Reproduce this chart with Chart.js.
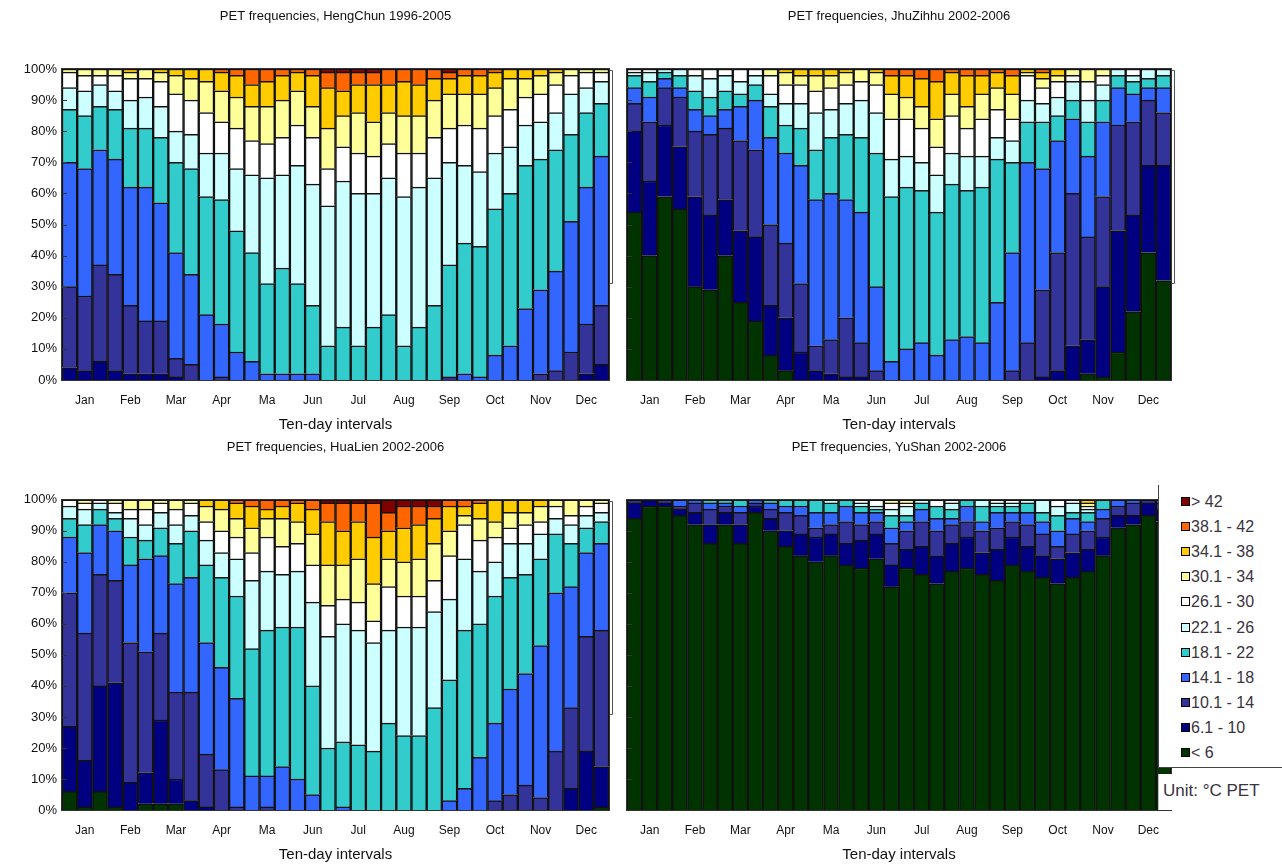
<!DOCTYPE html>
<html>
<head>
<meta charset="utf-8">
<script src="https://cdn.jsdelivr.net/npm/chart.js@4.4.0/dist/chart.umd.min.js"></script>
<style>
  html, body { margin: 0; padding: 0; background: #fff; }
  body { width: 1282px; height: 865px; position: relative; overflow: hidden; font-family: 'Liberation Sans', Arial, sans-serif; }
  canvas { position: absolute; }
  #legend { position: absolute; left: 1158px; top: 485px; width: 124px; height: 282px; background: #fff;
            border-left: 1px solid #444; border-bottom: 1px solid #444; z-index: 2; }
  #legend .item { position: absolute; left: 22px; height: 18px; line-height: 18px; font-size: 16px; color: #3a3340; white-space: nowrap; }
  #legend .sw { display: inline-block; width: 7px; height: 7px; border: 1px solid #000; margin-right: 1px; vertical-align: 1px; }
  #unit { position: absolute; left: 1158px; top: 774px; width: 124px; height: 36px; background: #fff;
          border-left: 1px solid #bbb; z-index: 2; font-size: 17px; color: #3a3340; line-height: 34px; padding-left: 4px; box-sizing: border-box; }
</style>
</head>
<body>
<canvas id="c1" width="616" height="435" style="left:0px;top:0px"></canvas>
<canvas id="c2" width="662" height="435" style="left:620px;top:0px"></canvas>
<canvas id="c3" width="616" height="430" style="left:0px;top:435px"></canvas>
<canvas id="c4" width="662" height="430" style="left:620px;top:435px"></canvas>
<div id="legend"></div>
<div id="unit">Unit: °C PET</div>

<script>
// PET classes, bottom to top
const classLabels = ['< 6', '6.1 - 10', '10.1 - 14', '14.1 - 18', '18.1 - 22', '22.1 - 26',
                     '26.1 - 30', '30.1 - 34', '34.1 - 38', '38.1 - 42', '> 42'];
const classColors = ['#003300', '#000080', '#333399', '#3366ff', '#33cccc', '#ccffff',
                     '#ffffff', '#ffff99', '#ffcc00', '#ff6600', '#800000'];

const months = ['Jan', 'Feb', 'Mar', 'Apr', 'Ma', 'Jun', 'Jul', 'Aug', 'Sep', 'Oct', 'Nov', 'Dec'];

// one row per ten-day interval, % share of each class (bottom to top)
const hengChun = [
  [0,4,26,40,17,7,5,1,0,0,0], [0,3,24,41,17,8,5,2,0,0,0], [0,6,31,37,14,7,3,2,0,0,0],
  [0,3,31,37,16,6,5,2,0,0,0], [0,2,22,38,19,9,7,2,1,0,0], [0,2,17,43,19,10,6,3,0,0,0],
  [0,2,17,38,21,10,8,3,1,0,0], [0,1,6,34,29,10,12,6,2,0,0], [0,0,5,29,34,11,11,7,3,0,0],
  [0,0,0,21,38,14,13,10,4,0,0], [0,0,1,17,40,15,10,10,6,1,0], [0,0,0,9,39,20,13,10,7,2,0],
  [0,0,0,6,35,25,11,11,7,5,0], [0,0,0,2,29,34,11,12,8,4,0], [0,0,0,2,34,30,12,12,8,2,0],
  [0,0,0,2,29,38,13,11,6,1,0], [0,0,0,2,22,39,15,10,10,2,0], [0,0,0,0,11,45,12,13,13,5,1],
  [0,0,0,0,17,47,11,10,8,6,1], [0,0,0,0,11,49,13,13,9,4,1], [0,0,0,0,17,43,12,11,12,4,1],
  [0,0,0,0,21,44,11,10,9,5,0], [0,0,0,0,11,48,14,12,11,4,0], [0,0,0,0,17,45,11,12,10,5,0],
  [0,0,0,0,24,41,13,12,7,3,0], [0,0,1,0,36,33,11,11,5,2,1], [0,0,0,2,42,25,13,10,6,2,0],
  [0,0,0,1,42,24,14,11,6,2,0], [0,0,0,8,47,18,12,9,5,1,0], [0,0,0,11,49,15,12,10,3,0,0],
  [0,0,0,23,46,13,9,6,3,0,0], [0,0,2,27,42,12,9,6,2,0,0], [0,0,3,32,39,12,9,4,1,0,0],
  [0,0,9,42,28,13,6,2,0,0,0], [0,2,16,44,24,8,5,1,0,0,0], [0,5,19,48,17,7,3,1,0,0,0]
];

const jhuZihhu = [
  [54,26,9,5,4,1,1,0,0,0,0], [40,24,19,8,5,3,1,0,0,0,0], [59,23,12,3,2,1,0,0,0,0,0],
  [55,20,16,3,4,2,0,0,0,0,0], [30,29,21,7,6,5,2,0,0,0,0], [29,24,26,6,6,6,3,0,0,0,0],
  [40,18,23,6,6,5,2,0,0,0,0], [25,23,29,11,4,4,4,0,0,0,0], [19,27,28,16,5,3,2,0,0,0,0],
  [8,16,26,28,10,4,6,2,0,0,0], [3,17,24,29,9,7,6,4,1,0,0], [0,9,22,38,12,8,6,3,2,0,0],
  [0,3,8,47,16,12,7,5,2,0,0], [0,2,11,47,18,9,7,4,2,0,0], [0,1,19,38,21,10,6,4,1,0,0],
  [0,1,11,42,24,12,6,4,0,0,0], [0,0,3,27,43,13,9,4,1,0,0], [0,0,0,6,53,12,13,8,6,2,0],
  [0,0,0,10,52,10,12,7,7,2,0], [0,0,0,12,49,9,11,7,9,3,0], [0,0,0,8,46,12,9,9,12,4,0],
  [0,0,0,13,50,10,12,7,7,1,0], [0,0,0,14,47,11,9,7,10,2,0], [0,0,0,12,50,10,12,8,6,2,0],
  [0,0,0,25,46,7,9,7,5,1,0], [0,0,3,38,29,7,7,8,6,2,0], [0,0,12,58,13,7,8,1,1,0,0],
  [0,1,28,39,15,6,5,3,2,1,0], [0,3,38,36,8,6,5,2,2,0,0], [0,11,49,24,6,6,2,2,0,0,0],
  [2,11,33,26,11,7,6,4,0,0,0], [1,29,29,24,7,5,3,2,0,0,0], [9,39,34,12,4,2,0,0,0,0,0],
  [22,31,30,9,4,2,2,0,0,0,0], [41,28,21,4,3,3,0,0,0,0,0], [32,37,17,8,4,2,0,0,0,0,0]
];

const huaLien = [
  [6,21,43,18,6,4,2,0,0,0,0], [1,15,41,26,9,5,2,1,0,0,0], [6,34,36,16,5,2,1,0,0,0,0],
  [1,40,33,16,4,2,3,1,0,0,0], [0,9,45,25,9,6,3,3,0,0,0], [2,10,39,30,6,5,5,3,0,0,0],
  [2,27,28,25,9,5,3,1,0,0,0], [2,8,28,35,13,6,5,3,0,0,0], [0,3,35,37,15,5,4,1,0,0,0],
  [0,1,17,36,25,8,6,5,2,0,0], [0,0,13,33,29,8,7,7,3,0,0], [0,0,1,35,33,12,7,6,5,1,0],
  [0,0,0,11,41,22,9,8,7,2,0], [0,0,1,10,47,19,11,6,3,3,0], [0,0,0,14,45,17,9,9,4,2,0],
  [0,0,0,10,49,18,9,7,6,1,0], [0,0,0,5,35,27,12,10,8,3,0], [0,0,0,0,20,36,10,13,14,6,1],
  [0,0,0,1,21,38,8,11,11,9,1], [0,0,0,0,21,37,9,14,12,6,1], [0,0,0,0,19,35,7,12,15,11,1],
  [0,0,0,0,28,30,14,9,9,6,4], [0,0,0,0,24,35,10,11,11,7,2], [0,0,0,0,24,35,10,12,11,6,2],
  [0,0,0,0,33,31,10,12,8,4,2], [0,0,0,3,39,26,14,8,8,2,0], [0,0,0,7,51,23,11,3,3,2,0],
  [0,0,0,17,43,17,10,7,5,1,0], [0,0,3,25,41,11,8,5,7,0,0], [0,0,5,34,36,11,5,5,4,0,0],
  [0,0,8,36,32,10,6,4,4,0,0], [0,0,4,49,28,8,4,5,2,0,0], [0,0,19,51,19,5,4,2,0,0,0],
  [0,7,26,39,14,6,3,5,0,0,0], [0,19,37,27,8,4,3,2,0,0,0], [1,13,44,28,7,3,3,1,0,0,0]
];

const yuShan = [
  [94,5,1,0,0,0,0,0,0,0,0], [98,2,0,0,0,0,0,0,0,0,0], [98,1,1,0,0,0,0,0,0,0,0],
  [95,2,1,2,0,0,0,0,0,0,0], [92,4,3,1,0,0,0,0,0,0,0], [86,6,5,2,1,0,0,0,0,0,0],
  [92,4,2,1,1,0,0,0,0,0,0], [86,6,4,2,2,0,0,0,0,0,0], [96,2,1,1,0,0,0,0,0,0,0],
  [90,4,3,2,1,0,0,0,0,0,0], [85,5,6,2,2,0,0,0,0,0,0], [82,7,6,3,2,0,0,0,0,0,0],
  [80,8,3,5,4,0,0,0,0,0,0], [82,7,3,4,3,1,0,0,0,0,0], [79,7,7,5,2,0,0,0,0,0,0],
  [78,9,5,4,2,1,1,0,0,0,0], [81,8,4,3,1,1,2,0,0,0,0], [72,7,7,5,4,2,2,1,0,0,0],
  [78,6,6,3,2,3,1,1,0,0,0], [76,9,8,4,2,1,0,0,0,0,0], [73,9,8,4,4,0,2,0,0,0,0],
  [77,9,6,2,3,2,1,0,0,0,0], [78,10,5,5,2,0,0,0,0,0,0], [76,7,7,3,5,2,0,0,0,0,0],
  [74,10,7,5,2,1,1,0,0,0,0], [79,9,5,3,2,1,1,0,0,0,0], [77,8,7,4,3,1,0,0,0,0,0],
  [75,7,7,4,3,4,0,0,0,0,0], [73,8,4,5,5,3,2,0,0,0,0], [75,8,6,5,2,3,1,0,0,0,0],
  [77,7,6,3,3,1,1,1,1,0,0], [82,6,6,3,3,0,0,0,0,0,0], [91,4,3,2,0,0,0,0,0,0,0],
  [92,3,4,1,0,0,0,0,0,0,0], [95,4,1,0,0,0,0,0,0,0,0], [93,4,2,1,0,0,0,0,0,0,0]
];

// 36 ten-day bars, month name under the middle one of each month
const tenDayLabels = [];
months.forEach(m => { tenDayLabels.push('', m, ''); });

const FONT = "'Liberation Sans', Arial, sans-serif";

// plot frame, inner y ticks and the little bracket right of the plot
const framePlugin = {
    id: 'frame',
    afterDatasetsDraw(chart, args, opts) {
        const { ctx, chartArea: a, scales: { y } } = chart;
        ctx.save();
        ctx.strokeStyle = '#333';
        ctx.lineWidth = 1;
        ctx.strokeRect(Math.round(a.left) - 0.5, Math.round(a.top) - 0.5,
                       Math.round(a.width) + 1, Math.round(a.height) + 1);
        ctx.beginPath();
        for (let v = 10; v < 100; v += 10) {
            const py = Math.round(y.getPixelForValue(v)) + 0.5;
            ctx.moveTo(a.left, py);
            ctx.lineTo(a.left + 5, py);
        }
        ctx.stroke();
        if (opts.bracket) {
            const bx = Math.round(a.right) + 3.5;
            const t = Math.round(a.top) + 1.5;
            const b = t + 213;
            ctx.strokeStyle = '#555';
            ctx.beginPath();
            ctx.moveTo(bx - 3, t);
            ctx.lineTo(bx, t);
            ctx.lineTo(bx, b);
            ctx.lineTo(bx - 3, b);
            ctx.stroke();
        }
        ctx.restore();
    }
};

function drawPanel(id, title, rows, showY, bracket, top) {
    const datasets = classLabels.map((name, k) => ({
        label: name,
        data: rows.map(r => r[k]),
        backgroundColor: classColors[k],
        borderColor: '#111',
        borderWidth: 1.5,
        barPercentage: 1,
        categoryPercentage: 1
    }));

    new Chart(document.getElementById(id).getContext('2d'), {
        type: 'bar',
        data: { labels: tenDayLabels, datasets: datasets },
        plugins: [framePlugin],
        options: {
            responsive: false,
            animation: false,
            layout: { padding: { left: 0, right: showY ? 7 : 111, top: 0, bottom: 0 } },
            scales: {
                x: {
                    stacked: true,
                    grid: { display: false, drawTicks: false },
                    border: { display: false },
                    ticks: {
                        autoSkip: false, maxRotation: 0, padding: 13,
                        color: '#111', font: { family: FONT, size: 12 }
                    },
                    title: {
                        display: true, text: 'Ten-day intervals', color: '#111',
                        font: { family: FONT, size: 15 }, padding: { top: 2, bottom: 1 }
                    },
                    afterFit: s => { s.height = 55; }
                },
                y: {
                    stacked: true, min: 0, max: 100,
                    grid: { display: false, drawTicks: false },
                    border: { display: false },
                    ticks: {
                        display: showY, stepSize: 10, padding: 5,
                        color: '#111', font: { family: FONT, size: 13 },
                        callback: v => v + '%'
                    },
                    afterFit: s => { s.width = showY ? 62 : 7; }
                }
            },
            plugins: {
                legend: { display: false },
                tooltip: { enabled: false },
                title: {
                    display: true, text: title, fullSize: false, color: '#111',
                    font: { family: FONT, size: 13, weight: 'normal' },
                    padding: { top: top, bottom: 44.4 }
                },
                frame: { bracket: bracket }
            }
        }
    });
}

drawPanel('c1', 'PET frequencies, HengChun 1996-2005', hengChun, true, true, 9);
drawPanel('c2', 'PET frequencies, JhuZihhu 2002-2006', jhuZihhu, false, true, 9);
drawPanel('c3', 'PET frequencies, HuaLien 2002-2006', huaLien, true, true, 4.8);
drawPanel('c4', 'PET frequencies, YuShan 2002-2006', yuShan, false, false, 4.8);

// legend box, top class first
const legendBox = document.getElementById('legend');
for (let k = classLabels.length - 1; k >= 0; k--) {
    const i = classLabels.length - 1 - k;
    const item = document.createElement('div');
    item.className = 'item';
    item.style.top = (8 + i * 25.1) + 'px';
    const sw = document.createElement('span');
    sw.className = 'sw';
    sw.style.background = classColors[k];
    item.appendChild(sw);
    item.appendChild(document.createTextNode(classLabels[k]));
    legendBox.appendChild(item);
}
</script>
</body>
</html>
